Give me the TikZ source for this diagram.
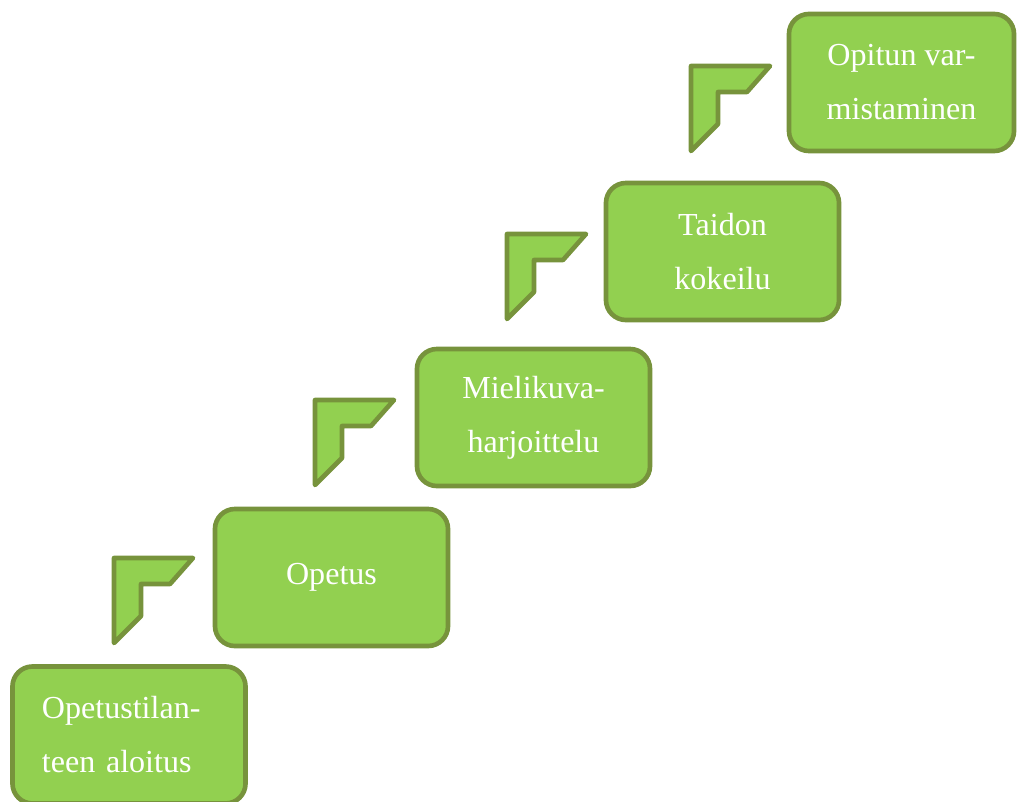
\documentclass[tikz,border=0pt]{standalone}
\usepackage{fontspec}
\setmainfont{Liberation Serif}
\usepackage{tikz}
\usepackage{xcolor}

\definecolor{stepfill}{HTML}{92D050}
\definecolor{stepline}{HTML}{77933C}

\begin{document}
\begin{tikzpicture}[
            x = 0.025cm, y = -0.025cm, % one unit is one pixel
            line width = 3.3pt, % border width
            line join = round,
            stepbox/.style = {shape=rectangle, rounded corners=0.5cm, draw=stepline, fill=stepfill,
                              minimum width=5.825cm, minimum height=3.425cm, text=white, align=center,
                              font=\fontsize{22.8}{38.4}\selectfont},
            corner/.style = {draw=stepline, fill=stepfill}
        ]
\useasboundingbox (0,0) rectangle (1017,801);

\node[stepbox, text width=4.35cm, align=left] (alku) at (129,735) {Opetustilan-\\teen aloitus};
\node[stepbox] (opetus) at (331.5,577.5) {\raisebox{3pt}{Opetus}};
\node[stepbox] (mielikuva) at (533.5,417.5) {Mielikuva-\\harjoittelu};
\node[stepbox] (kokeilu) at (722.5,251.5) {Taidon\\kokeilu};
\node[stepbox, minimum width=5.625cm] (varmistus) at (901.5,82.5) {Opitun var-\\mistaminen};

% corner shapes between the steps
\draw[corner, shift={(114,558)}] (0,0) -- (79,0) -- (56,26) -- (27,26) -- (27,58) -- (0,85) -- cycle;
\draw[corner, shift={(315,400)}] (0,0) -- (79,0) -- (56,26) -- (27,26) -- (27,58) -- (0,85) -- cycle;
\draw[corner, shift={(507,234)}] (0,0) -- (79,0) -- (56,26) -- (27,26) -- (27,58) -- (0,85) -- cycle;
\draw[corner, shift={(691,66)}] (0,0) -- (79,0) -- (56,26) -- (27,26) -- (27,58) -- (0,85) -- cycle;
\end{tikzpicture}
\end{document}
